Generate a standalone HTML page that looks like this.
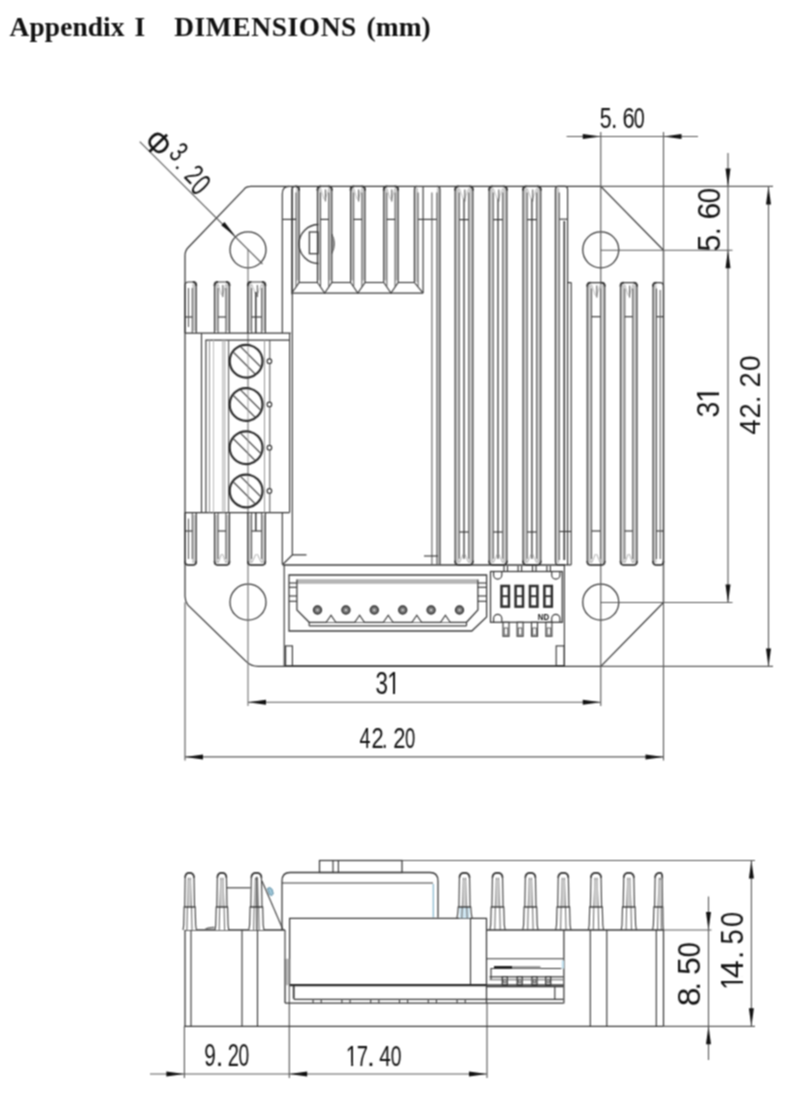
<!DOCTYPE html>
<html><head><meta charset="utf-8"><title>Appendix I DIMENSIONS (mm)</title>
<style>
html,body{margin:0;padding:0;background:#fff;}
body{width:800px;height:1101px;overflow:hidden;position:relative;font-family:"Liberation Sans",sans-serif;}
h1 span{position:absolute;top:0}
h1{position:absolute;left:0;top:11.5px;width:800px;height:34px;margin:0;font-family:"Liberation Serif",serif;font-weight:bold;font-size:27.4px;line-height:30px;color:#111;white-space:pre;letter-spacing:0.1px}
svg{position:absolute;left:0;top:0;}
h1{filter:url(#soft)}
</style></head><body>
<h1><span style="left:9.6px">Appendix</span><span style="left:134.6px">I</span><span style="left:174.2px;letter-spacing:0.62px">DIMENSIONS</span><span style="left:366.5px">(mm)</span></h1>
<svg width="800" height="1101" viewBox="0 0 800 1101" shape-rendering="geometricPrecision">
<defs><filter id="soft" x="-5%" y="-5%" width="110%" height="110%" color-interpolation-filters="sRGB"><feConvolveMatrix order="3" kernelMatrix="1 2 1 2 4 2 1 2 1" divisor="16" edgeMode="none" preserveAlpha="false"/></filter></defs>
<g filter="url(#soft)">
<path d="M250.0,186.4 L600.75,186.4 L663.5,250.25 L663.5,602.5 L600.75,666.4 L258.0,666.4 Q251.0,666.4 246.0,661.4 L188.0,605.2 Q185.0,601.2 185.0,596.2 L185.0,255.8 Q185.0,250.8 188.0,247.8 L244.0,189.4 Q246.0,186.4 251.0,186.4 Z" stroke="#383838" stroke-width="1.26" fill="none" />
<line x1="292.50" y1="666.10" x2="565.00" y2="666.10" stroke="#333" stroke-width="1.95" />
<circle cx="248.00" cy="249.85" r="18.00" stroke="#383838" stroke-width="1.26" fill="none"/>
<circle cx="600.75" cy="249.85" r="18.00" stroke="#383838" stroke-width="1.26" fill="none"/>
<circle cx="248.00" cy="602.20" r="18.00" stroke="#383838" stroke-width="1.26" fill="none"/>
<circle cx="600.75" cy="602.20" r="18.00" stroke="#383838" stroke-width="1.26" fill="none"/>
<line x1="600.75" y1="132.00" x2="600.75" y2="706.00" stroke="#5a5a5a" stroke-width="1.15" />
<line x1="663.50" y1="132.00" x2="663.50" y2="760.50" stroke="#5a5a5a" stroke-width="1.15" />
<line x1="248.00" y1="249.85" x2="248.00" y2="706.00" stroke="#777" stroke-width="1.15" />
<line x1="185.00" y1="602.20" x2="185.00" y2="760.50" stroke="#5a5a5a" stroke-width="1.15" />
<line x1="600.75" y1="186.40" x2="773.00" y2="186.40" stroke="#5a5a5a" stroke-width="1.15" />
<line x1="600.75" y1="250.25" x2="732.50" y2="250.25" stroke="#5a5a5a" stroke-width="1.15" />
<line x1="600.75" y1="602.50" x2="732.50" y2="602.50" stroke="#5a5a5a" stroke-width="1.15" />
<line x1="600.75" y1="666.40" x2="773.00" y2="666.40" stroke="#5a5a5a" stroke-width="1.15" />
<line x1="566.60" y1="136.50" x2="698.00" y2="136.50" stroke="#5a5a5a" stroke-width="1.15" />
<polygon points="600.75,136.50 582.75,139.00 582.75,134.00" fill="#111"/>
<polygon points="663.50,136.50 681.50,134.00 681.50,139.00" fill="#111"/>
<g transform="translate(600.50,127.60) rotate(0)">
<text font-family="Liberation Sans, sans-serif" font-size="30.09" fill="#111" xml:space="preserve"><tspan x="-0.85" textLength="11.85" lengthAdjust="spacingAndGlyphs">5</tspan><tspan x="10.59" textLength="6.42" lengthAdjust="spacingAndGlyphs">.</tspan><tspan x="15.90"> </tspan><tspan x="22.09" textLength="12.17" lengthAdjust="spacingAndGlyphs">6</tspan><tspan x="33.13" textLength="10.94" lengthAdjust="spacingAndGlyphs">0</tspan></text>
</g>
<line x1="728.00" y1="153.00" x2="728.00" y2="602.20" stroke="#5a5a5a" stroke-width="1.15" />
<polygon points="728.00,186.40 725.50,168.40 730.50,168.40" fill="#111"/>
<polygon points="728.00,250.25 730.50,268.25 725.50,268.25" fill="#111"/>
<polygon points="728.00,602.50 725.50,584.50 730.50,584.50" fill="#111"/>
<g transform="translate(719.60,250.30) rotate(-90)">
<text font-family="Liberation Sans, sans-serif" font-size="31.52" fill="#111" xml:space="preserve"><tspan x="-1.22" textLength="16.89" lengthAdjust="spacingAndGlyphs">5</tspan><tspan x="15.41" textLength="7.59" lengthAdjust="spacingAndGlyphs">.</tspan><tspan x="21.50"> </tspan><tspan x="30.76" textLength="16.87" lengthAdjust="spacingAndGlyphs">6</tspan><tspan x="47.03" textLength="15.24" lengthAdjust="spacingAndGlyphs">0</tspan></text>
</g>
<g transform="translate(719.00,416.50) rotate(-90)">
<text font-family="Liberation Sans, sans-serif" font-size="30.80" fill="#111" xml:space="preserve"><tspan x="-1.08" textLength="15.84" lengthAdjust="spacingAndGlyphs">3</tspan><tspan x="13.55" textLength="17.11" lengthAdjust="spacingAndGlyphs">1</tspan></text>
<rect x="15.08" y="-3.10" width="6.20" height="3.70" fill="#fff"/>
<rect x="24.00" y="-3.10" width="5.85" height="3.70" fill="#fff"/>
</g>
<line x1="768.50" y1="186.40" x2="768.50" y2="666.40" stroke="#5a5a5a" stroke-width="1.15" />
<polygon points="768.50,186.40 771.00,204.40 766.00,204.40" fill="#111"/>
<polygon points="768.50,666.40 766.00,648.40 771.00,648.40" fill="#111"/>
<g transform="translate(760.00,434.00) rotate(-90)">
<text font-family="Liberation Sans, sans-serif" font-size="30.09" fill="#111" xml:space="preserve"><tspan x="-0.64" textLength="15.45" lengthAdjust="spacingAndGlyphs">4</tspan><tspan x="15.62" textLength="15.26" lengthAdjust="spacingAndGlyphs">2</tspan><tspan x="31.10" textLength="7.29" lengthAdjust="spacingAndGlyphs">.</tspan><tspan x="37.00"> </tspan><tspan x="46.62" textLength="15.26" lengthAdjust="spacingAndGlyphs">2</tspan><tspan x="62.90" textLength="15.71" lengthAdjust="spacingAndGlyphs">0</tspan></text>
</g>
<line x1="248.00" y1="702.20" x2="600.75" y2="702.20" stroke="#5a5a5a" stroke-width="1.15" />
<polygon points="248.00,702.20 266.00,699.70 266.00,704.70" fill="#111"/>
<polygon points="600.75,702.20 582.75,704.70 582.75,699.70" fill="#111"/>
<g transform="translate(376.25,693.75) rotate(0)">
<text font-family="Liberation Sans, sans-serif" font-size="30.44" fill="#111" xml:space="preserve"><tspan x="-0.86" textLength="12.49" lengthAdjust="spacingAndGlyphs">3</tspan><tspan x="10.94" textLength="12.77" lengthAdjust="spacingAndGlyphs">1</tspan></text>
<rect x="12.09" y="-3.07" width="4.63" height="3.67" fill="#fff"/>
<rect x="18.75" y="-3.07" width="4.37" height="3.67" fill="#fff"/>
</g>
<line x1="185.00" y1="756.90" x2="663.50" y2="756.90" stroke="#5a5a5a" stroke-width="1.15" />
<polygon points="185.00,756.90 203.00,754.40 203.00,759.40" fill="#111"/>
<polygon points="663.50,756.90 645.50,759.40 645.50,754.40" fill="#111"/>
<g transform="translate(360.00,748.10) rotate(0)">
<text font-family="Liberation Sans, sans-serif" font-size="29.51" fill="#111" xml:space="preserve"><tspan x="-0.46" textLength="11.04" lengthAdjust="spacingAndGlyphs">4</tspan><tspan x="11.40" textLength="12.21" lengthAdjust="spacingAndGlyphs">2</tspan><tspan x="21.98" textLength="5.40" lengthAdjust="spacingAndGlyphs">.</tspan><tspan x="26.60"> </tspan><tspan x="33.30" textLength="12.21" lengthAdjust="spacingAndGlyphs">2</tspan><tspan x="44.88" textLength="10.24" lengthAdjust="spacingAndGlyphs">0</tspan></text>
</g>
<line x1="139.70" y1="141.70" x2="262.50" y2="264.00" stroke="#5a5a5a" stroke-width="1.15" />
<polygon points="235.60,236.40 221.25,225.30 224.50,222.05" fill="#111"/>
<text transform="translate(158.25,143.10) rotate(46)" x="-11.96" y="12.11" textLength="23.91" lengthAdjust="spacingAndGlyphs" font-family="Liberation Sans, sans-serif" font-size="35.23" fill="#111">&#934;</text>
<text transform="translate(178.70,151.80) rotate(46)" x="-5.51" y="10.02" textLength="11.14" lengthAdjust="spacingAndGlyphs" font-family="Liberation Sans, sans-serif" font-size="29.10" fill="#111">3</text>
<text transform="translate(177.30,167.80) rotate(46)" x="-3.36" y="1.25" textLength="6.71" lengthAdjust="spacingAndGlyphs" font-family="Liberation Sans, sans-serif" font-size="23.38" fill="#111">.</text>
<text transform="translate(194.20,174.10) rotate(46)" x="-5.80" y="10.10" textLength="11.60" lengthAdjust="spacingAndGlyphs" font-family="Liberation Sans, sans-serif" font-size="28.93" fill="#111">2</text>
<text transform="translate(200.90,185.00) rotate(46)" x="-5.82" y="10.94" textLength="11.63" lengthAdjust="spacingAndGlyphs" font-family="Liberation Sans, sans-serif" font-size="31.78" fill="#111">0</text>
<path d="M282.3,564.5 L282.3,512.6 M282.3,333.1 L282.3,194 Q282.3,186.4 289,186.4" stroke="#383838" stroke-width="1.15" fill="none" />
<path d="M292.3,186.4 L292.3,554.9 L282.6,564.5 M292.3,554.9 L306.5,554.9" stroke="#383838" stroke-width="1.15" fill="none" />
<line x1="282.60" y1="565.00" x2="565.00" y2="565.00" stroke="#383838" stroke-width="1.26" />
<line x1="284.20" y1="565.00" x2="284.20" y2="666.40" stroke="#383838" stroke-width="1.15" />
<rect x="285.60" y="645.90" width="6.80" height="19.90" rx="0" stroke="#383838" stroke-width="1.15" fill="none"/>
<rect x="317.45" y="188.40" width="3.10" height="92.10" fill="#c9c9c9"/>
<rect x="328.75" y="188.40" width="3.10" height="92.10" fill="#c9c9c9"/>
<path d="M317.45,282.50 L317.45,189.90 Q317.45,186.40 320.95,186.40 L328.35,186.40 Q331.85,186.40 331.85,189.90 L331.85,282.50 L324.65,293.00 L317.45,282.50" stroke="#383838" stroke-width="1.15" fill="none" />
<line x1="320.55" y1="192.40" x2="320.55" y2="286.50" stroke="#555" stroke-width="1.03" />
<line x1="328.75" y1="192.40" x2="328.75" y2="286.50" stroke="#555" stroke-width="1.03" />
<path d="M320.55,188.40 L324.05,199.40 M328.75,188.40 L325.25,199.40" stroke="#aaa" stroke-width="0.80" fill="none" />
<line x1="325.45" y1="189.40" x2="325.45" y2="201.40" stroke="#666" stroke-width="1.15" />
<path d="M317.45,190.40 L317.45,189.90 Q317.45,186.40 320.95,186.40" stroke="#333" stroke-width="1.85" fill="none" />
<path d="M331.85,190.40 L331.85,189.90 Q331.85,186.40 328.35,186.40" stroke="#333" stroke-width="1.85" fill="none" />
<line x1="320.55" y1="219.40" x2="328.75" y2="219.40" stroke="#333" stroke-width="1.15" />
<rect x="350.60" y="188.40" width="3.10" height="92.10" fill="#c9c9c9"/>
<rect x="361.90" y="188.40" width="3.10" height="92.10" fill="#c9c9c9"/>
<path d="M350.60,282.50 L350.60,189.90 Q350.60,186.40 354.10,186.40 L361.50,186.40 Q365.00,186.40 365.00,189.90 L365.00,282.50 L357.80,293.00 L350.60,282.50" stroke="#383838" stroke-width="1.15" fill="none" />
<line x1="353.70" y1="192.40" x2="353.70" y2="286.50" stroke="#555" stroke-width="1.03" />
<line x1="361.90" y1="192.40" x2="361.90" y2="286.50" stroke="#555" stroke-width="1.03" />
<path d="M353.70,188.40 L357.20,199.40 M361.90,188.40 L358.40,199.40" stroke="#aaa" stroke-width="0.80" fill="none" />
<line x1="358.60" y1="189.40" x2="358.60" y2="201.40" stroke="#666" stroke-width="1.15" />
<path d="M350.60,190.40 L350.60,189.90 Q350.60,186.40 354.10,186.40" stroke="#333" stroke-width="1.85" fill="none" />
<path d="M365.00,190.40 L365.00,189.90 Q365.00,186.40 361.50,186.40" stroke="#333" stroke-width="1.85" fill="none" />
<line x1="353.70" y1="219.40" x2="361.90" y2="219.40" stroke="#333" stroke-width="1.15" />
<rect x="383.75" y="188.40" width="3.10" height="92.10" fill="#c9c9c9"/>
<rect x="395.05" y="188.40" width="3.10" height="92.10" fill="#c9c9c9"/>
<path d="M383.75,282.50 L383.75,189.90 Q383.75,186.40 387.25,186.40 L394.65,186.40 Q398.15,186.40 398.15,189.90 L398.15,282.50 L390.95,293.00 L383.75,282.50" stroke="#383838" stroke-width="1.15" fill="none" />
<line x1="386.85" y1="192.40" x2="386.85" y2="286.50" stroke="#555" stroke-width="1.03" />
<line x1="395.05" y1="192.40" x2="395.05" y2="286.50" stroke="#555" stroke-width="1.03" />
<path d="M386.85,188.40 L390.35,199.40 M395.05,188.40 L391.55,199.40" stroke="#aaa" stroke-width="0.80" fill="none" />
<line x1="391.75" y1="189.40" x2="391.75" y2="201.40" stroke="#666" stroke-width="1.15" />
<path d="M383.75,190.40 L383.75,189.90 Q383.75,186.40 387.25,186.40" stroke="#333" stroke-width="1.85" fill="none" />
<path d="M398.15,190.40 L398.15,189.90 Q398.15,186.40 394.65,186.40" stroke="#333" stroke-width="1.85" fill="none" />
<line x1="386.85" y1="219.40" x2="395.05" y2="219.40" stroke="#333" stroke-width="1.15" />
<rect x="296.00" y="188.40" width="3.10" height="92.10" fill="#c9c9c9"/>
<path d="M291.90,282.50 L291.90,189.90 Q291.90,186.40 295.40,186.40 L295.60,186.40 Q299.10,186.40 299.10,189.90 L299.10,282.50 L291.90,293.00 L291.90,282.50" stroke="#383838" stroke-width="1.15" fill="none" />
<line x1="296.00" y1="192.40" x2="296.00" y2="286.50" stroke="#555" stroke-width="1.03" />
<path d="M0,0" stroke="#333" stroke-width="1.85" fill="none" />
<path d="M299.10,190.40 L299.10,189.90 Q299.10,186.40 295.60,186.40" stroke="#333" stroke-width="1.85" fill="none" />
<line x1="291.90" y1="219.40" x2="296.00" y2="219.40" stroke="#333" stroke-width="1.15" />
<line x1="282.30" y1="219.40" x2="296.00" y2="219.40" stroke="#383838" stroke-width="1.15" />
<rect x="414.4" y="188" width="3.6" height="94" fill="#c9c9c9"/>
<path d="M414.4,282.5 L414.4,189.4 Q414.4,186.4 417,186.4" stroke="#383838" stroke-width="1.15" fill="none" />
<line x1="418.10" y1="192.40" x2="418.10" y2="286.50" stroke="#555" stroke-width="1.03" />
<line x1="423.10" y1="186.40" x2="423.10" y2="293.10" stroke="#383838" stroke-width="1.15" />
<path d="M414.4,282.5 L423.1,293.1" stroke="#383838" stroke-width="1.15" fill="none" />
<line x1="418.10" y1="219.40" x2="436.90" y2="219.40" stroke="#383838" stroke-width="1.15" />
<line x1="299.10" y1="282.50" x2="317.45" y2="282.50" stroke="#383838" stroke-width="1.15" />
<line x1="331.85" y1="282.50" x2="350.60" y2="282.50" stroke="#383838" stroke-width="1.15" />
<line x1="365.00" y1="282.50" x2="383.75" y2="282.50" stroke="#383838" stroke-width="1.15" />
<line x1="398.15" y1="282.50" x2="414.40" y2="282.50" stroke="#383838" stroke-width="1.15" />
<line x1="292.30" y1="293.10" x2="423.10" y2="293.10" stroke="#383838" stroke-width="1.26" />
<rect x="436.9" y="188" width="3.1" height="376" fill="#c9c9c9"/>
<line x1="431.90" y1="192.40" x2="431.90" y2="564.50" stroke="#555" stroke-width="1.03" />
<line x1="436.90" y1="192.40" x2="436.90" y2="564.50" stroke="#555" stroke-width="1.03" />
<path d="M440,564.5 L440,189.4 Q440,186.4 437,186.4" stroke="#383838" stroke-width="1.15" fill="none" />
<line x1="424.00" y1="556.00" x2="438.00" y2="556.00" stroke="#383838" stroke-width="1.15" />
<path d="M318.5,224.5 A19.5,19.5 0 0 0 318.5,263.5" stroke="#383838" stroke-width="1.26" fill="none" />
<rect x="309.40" y="232.00" width="8.60" height="21.70" rx="0" stroke="#383838" stroke-width="1.26" fill="none"/>
<path d="M331.9,234 Q337,243.7 331.9,253.5 Z" stroke="#555" stroke-width="0.92" fill="#999" />
<rect x="455.10" y="188.40" width="4.20" height="374.40" fill="#c9c9c9"/>
<rect x="468.70" y="188.40" width="4.20" height="374.40" fill="#c9c9c9"/>
<path d="M455.10,561.30 L455.10,189.90 Q455.10,186.40 458.60,186.40 L469.40,186.40 Q472.90,186.40 472.90,189.90 L472.90,561.30 Q472.90,564.80 469.40,564.80 L458.60,564.80 Q455.10,564.80 455.10,561.30" stroke="#383838" stroke-width="1.15" fill="none" />
<line x1="459.30" y1="192.40" x2="459.30" y2="558.80" stroke="#555" stroke-width="1.03" />
<line x1="468.70" y1="192.40" x2="468.70" y2="558.80" stroke="#555" stroke-width="1.03" />
<line x1="464.00" y1="198.40" x2="464.00" y2="558.80" stroke="#333" stroke-width="1.26" />
<path d="M459.30,188.40 L463.40,199.40 M468.70,188.40 L464.60,199.40" stroke="#aaa" stroke-width="0.80" fill="none" />
<line x1="464.80" y1="189.40" x2="464.80" y2="201.40" stroke="#666" stroke-width="1.15" />
<path d="M455.10,190.40 L455.10,189.90 Q455.10,186.40 458.60,186.40" stroke="#333" stroke-width="1.85" fill="none" />
<path d="M472.90,190.40 L472.90,189.90 Q472.90,186.40 469.40,186.40" stroke="#333" stroke-width="1.85" fill="none" />
<path d="M459.30,562.80 L463.40,553.80 M468.70,562.80 L464.60,553.80" stroke="#999" stroke-width="0.80" fill="none" />
<path d="M455.10,560.80 L455.10,561.30 Q455.10,564.80 458.60,564.80 L469.40,564.80 Q472.90,564.80 472.90,561.30 L472.90,560.80" stroke="#3a3a3a" stroke-width="1.65" fill="none" />
<line x1="459.30" y1="219.60" x2="468.70" y2="219.60" stroke="#333" stroke-width="1.15" />
<line x1="459.30" y1="532.00" x2="468.70" y2="532.00" stroke="#333" stroke-width="1.15" />
<rect x="489.10" y="188.40" width="4.20" height="374.40" fill="#c9c9c9"/>
<rect x="502.70" y="188.40" width="4.20" height="374.40" fill="#c9c9c9"/>
<path d="M489.10,561.30 L489.10,189.90 Q489.10,186.40 492.60,186.40 L503.40,186.40 Q506.90,186.40 506.90,189.90 L506.90,561.30 Q506.90,564.80 503.40,564.80 L492.60,564.80 Q489.10,564.80 489.10,561.30" stroke="#383838" stroke-width="1.15" fill="none" />
<line x1="493.30" y1="192.40" x2="493.30" y2="558.80" stroke="#555" stroke-width="1.03" />
<line x1="502.70" y1="192.40" x2="502.70" y2="558.80" stroke="#555" stroke-width="1.03" />
<line x1="498.00" y1="198.40" x2="498.00" y2="558.80" stroke="#333" stroke-width="1.26" />
<path d="M493.30,188.40 L497.40,199.40 M502.70,188.40 L498.60,199.40" stroke="#aaa" stroke-width="0.80" fill="none" />
<line x1="498.80" y1="189.40" x2="498.80" y2="201.40" stroke="#666" stroke-width="1.15" />
<path d="M489.10,190.40 L489.10,189.90 Q489.10,186.40 492.60,186.40" stroke="#333" stroke-width="1.85" fill="none" />
<path d="M506.90,190.40 L506.90,189.90 Q506.90,186.40 503.40,186.40" stroke="#333" stroke-width="1.85" fill="none" />
<path d="M493.30,562.80 L497.40,553.80 M502.70,562.80 L498.60,553.80" stroke="#999" stroke-width="0.80" fill="none" />
<path d="M489.10,560.80 L489.10,561.30 Q489.10,564.80 492.60,564.80 L503.40,564.80 Q506.90,564.80 506.90,561.30 L506.90,560.80" stroke="#3a3a3a" stroke-width="1.65" fill="none" />
<line x1="493.30" y1="219.60" x2="502.70" y2="219.60" stroke="#333" stroke-width="1.15" />
<line x1="493.30" y1="532.00" x2="502.70" y2="532.00" stroke="#333" stroke-width="1.15" />
<rect x="523.00" y="188.40" width="4.20" height="374.40" fill="#c9c9c9"/>
<rect x="536.60" y="188.40" width="4.20" height="374.40" fill="#c9c9c9"/>
<path d="M523.00,561.30 L523.00,189.90 Q523.00,186.40 526.50,186.40 L537.30,186.40 Q540.80,186.40 540.80,189.90 L540.80,561.30 Q540.80,564.80 537.30,564.80 L526.50,564.80 Q523.00,564.80 523.00,561.30" stroke="#383838" stroke-width="1.15" fill="none" />
<line x1="527.20" y1="192.40" x2="527.20" y2="558.80" stroke="#555" stroke-width="1.03" />
<line x1="536.60" y1="192.40" x2="536.60" y2="558.80" stroke="#555" stroke-width="1.03" />
<line x1="531.90" y1="198.40" x2="531.90" y2="558.80" stroke="#333" stroke-width="1.26" />
<path d="M527.20,188.40 L531.30,199.40 M536.60,188.40 L532.50,199.40" stroke="#aaa" stroke-width="0.80" fill="none" />
<line x1="532.70" y1="189.40" x2="532.70" y2="201.40" stroke="#666" stroke-width="1.15" />
<path d="M523.00,190.40 L523.00,189.90 Q523.00,186.40 526.50,186.40" stroke="#333" stroke-width="1.85" fill="none" />
<path d="M540.80,190.40 L540.80,189.90 Q540.80,186.40 537.30,186.40" stroke="#333" stroke-width="1.85" fill="none" />
<path d="M527.20,562.80 L531.30,553.80 M536.60,562.80 L532.50,553.80" stroke="#999" stroke-width="0.80" fill="none" />
<path d="M523.00,560.80 L523.00,561.30 Q523.00,564.80 526.50,564.80 L537.30,564.80 Q540.80,564.80 540.80,561.30 L540.80,560.80" stroke="#3a3a3a" stroke-width="1.65" fill="none" />
<line x1="527.20" y1="219.60" x2="536.60" y2="219.60" stroke="#333" stroke-width="1.15" />
<line x1="527.20" y1="532.00" x2="536.60" y2="532.00" stroke="#333" stroke-width="1.15" />
<rect x="555.4" y="188" width="3.8" height="375" fill="#c9c9c9"/>
<path d="M555.4,561.5 L555.4,189.4 Q555.4,186.4 558,186.4 L565,186.4 Q567.6,186.4 567.6,189.4 L567.6,564.8 M555.4,561.5 Q555.4,564.8 558.5,564.8 L571.2,564.8" stroke="#383838" stroke-width="1.15" fill="none" />
<line x1="559.30" y1="192.40" x2="559.30" y2="560.00" stroke="#555" stroke-width="1.03" />
<line x1="564.30" y1="221.00" x2="564.30" y2="560.00" stroke="#444" stroke-width="1.75" />
<line x1="559.30" y1="219.20" x2="567.60" y2="219.20" stroke="#383838" stroke-width="1.15" />
<line x1="559.30" y1="531.50" x2="571.00" y2="531.50" stroke="#383838" stroke-width="1.15" />
<line x1="571.20" y1="282.60" x2="571.20" y2="564.80" stroke="#383838" stroke-width="1.15" />
<line x1="567.60" y1="282.60" x2="571.20" y2="282.60" stroke="#383838" stroke-width="1.15" />
<rect x="587.25" y="284.60" width="4.30" height="278.40" fill="#c9c9c9"/>
<rect x="600.45" y="284.60" width="4.30" height="278.40" fill="#c9c9c9"/>
<path d="M587.25,561.50 L587.25,286.10 Q587.25,282.60 590.75,282.60 L601.25,282.60 Q604.75,282.60 604.75,286.10 L604.75,561.50 Q604.75,565.00 601.25,565.00 L590.75,565.00 Q587.25,565.00 587.25,561.50" stroke="#383838" stroke-width="1.15" fill="none" />
<line x1="591.55" y1="288.60" x2="591.55" y2="559.00" stroke="#555" stroke-width="1.03" />
<line x1="600.45" y1="288.60" x2="600.45" y2="559.00" stroke="#555" stroke-width="1.03" />
<path d="M591.55,284.60 L595.40,295.60 M600.45,284.60 L596.60,295.60" stroke="#aaa" stroke-width="0.80" fill="none" />
<line x1="596.80" y1="285.60" x2="596.80" y2="297.60" stroke="#666" stroke-width="1.15" />
<path d="M587.25,286.60 L587.25,286.10 Q587.25,282.60 590.75,282.60" stroke="#333" stroke-width="1.85" fill="none" />
<path d="M604.75,286.60 L604.75,286.10 Q604.75,282.60 601.25,282.60" stroke="#333" stroke-width="1.85" fill="none" />
<path d="M591.55,563.00 L595.40,554.00 M600.45,563.00 L596.60,554.00" stroke="#999" stroke-width="0.80" fill="none" />
<path d="M587.25,561.00 L587.25,561.50 Q587.25,565.00 590.75,565.00 L601.25,565.00 Q604.75,565.00 604.75,561.50 L604.75,561.00" stroke="#3a3a3a" stroke-width="1.65" fill="none" />
<line x1="591.55" y1="316.70" x2="600.45" y2="316.70" stroke="#333" stroke-width="1.15" />
<line x1="591.55" y1="531.00" x2="600.45" y2="531.00" stroke="#333" stroke-width="1.15" />
<rect x="620.50" y="284.60" width="4.30" height="278.40" fill="#c9c9c9"/>
<rect x="632.70" y="284.60" width="4.30" height="278.40" fill="#c9c9c9"/>
<path d="M620.50,561.50 L620.50,286.10 Q620.50,282.60 624.00,282.60 L633.50,282.60 Q637.00,282.60 637.00,286.10 L637.00,561.50 Q637.00,565.00 633.50,565.00 L624.00,565.00 Q620.50,565.00 620.50,561.50" stroke="#383838" stroke-width="1.15" fill="none" />
<line x1="624.80" y1="288.60" x2="624.80" y2="559.00" stroke="#555" stroke-width="1.03" />
<line x1="632.70" y1="288.60" x2="632.70" y2="559.00" stroke="#555" stroke-width="1.03" />
<path d="M624.80,284.60 L628.15,295.60 M632.70,284.60 L629.35,295.60" stroke="#aaa" stroke-width="0.80" fill="none" />
<line x1="629.55" y1="285.60" x2="629.55" y2="297.60" stroke="#666" stroke-width="1.15" />
<path d="M620.50,286.60 L620.50,286.10 Q620.50,282.60 624.00,282.60" stroke="#333" stroke-width="1.85" fill="none" />
<path d="M637.00,286.60 L637.00,286.10 Q637.00,282.60 633.50,282.60" stroke="#333" stroke-width="1.85" fill="none" />
<path d="M624.80,563.00 L628.15,554.00 M632.70,563.00 L629.35,554.00" stroke="#999" stroke-width="0.80" fill="none" />
<path d="M620.50,561.00 L620.50,561.50 Q620.50,565.00 624.00,565.00 L633.50,565.00 Q637.00,565.00 637.00,561.50 L637.00,561.00" stroke="#3a3a3a" stroke-width="1.65" fill="none" />
<line x1="624.80" y1="316.70" x2="632.70" y2="316.70" stroke="#333" stroke-width="1.15" />
<line x1="624.80" y1="531.00" x2="632.70" y2="531.00" stroke="#333" stroke-width="1.15" />
<rect x="653.00" y="284.60" width="3.50" height="278.40" fill="#c9c9c9"/>
<path d="M653.00,561.50 L653.00,286.10 Q653.00,282.60 656.50,282.60 L660.00,282.60 Q663.50,282.60 663.50,286.10 L663.50,561.50 Q663.50,565.00 660.00,565.00 L656.50,565.00 Q653.00,565.00 653.00,561.50" stroke="#383838" stroke-width="1.15" fill="none" />
<line x1="656.50" y1="288.60" x2="656.50" y2="559.00" stroke="#555" stroke-width="1.03" />
<path d="M653.00,286.60 L653.00,286.10 Q653.00,282.60 656.50,282.60" stroke="#333" stroke-width="1.85" fill="none" />
<path d="M0,0" stroke="#333" stroke-width="1.85" fill="none" />
<path d="M653.00,561.00 L653.00,561.50 Q653.00,565.00 656.50,565.00 L660.00,565.00 Q663.50,565.00 663.50,561.50 L663.50,561.00" stroke="#3a3a3a" stroke-width="1.65" fill="none" />
<line x1="656.50" y1="316.70" x2="663.50" y2="316.70" stroke="#333" stroke-width="1.15" />
<line x1="656.50" y1="531.00" x2="663.50" y2="531.00" stroke="#333" stroke-width="1.15" />
<line x1="660.20" y1="290.00" x2="660.20" y2="559.00" stroke="#555" stroke-width="1.03" />
<rect x="192.25" y="284.00" width="4.00" height="47.00" fill="#c9c9c9"/>
<path d="M185.00,333.00 L185.00,285.50 Q185.00,282.00 188.50,282.00 L192.75,282.00 Q196.25,282.00 196.25,285.50 L196.25,333.00" stroke="#383838" stroke-width="1.15" fill="none" />
<line x1="192.25" y1="288.00" x2="192.25" y2="333.00" stroke="#555" stroke-width="1.03" />
<path d="M0,0" stroke="#333" stroke-width="1.85" fill="none" />
<path d="M196.25,286.00 L196.25,285.50 Q196.25,282.00 192.75,282.00" stroke="#333" stroke-width="1.85" fill="none" />
<line x1="185.00" y1="317.00" x2="192.25" y2="317.00" stroke="#333" stroke-width="1.15" />
<line x1="188.50" y1="288.00" x2="188.50" y2="327.00" stroke="#555" stroke-width="1.03" />
<rect x="214.50" y="284.00" width="3.60" height="47.00" fill="#c9c9c9"/>
<rect x="225.90" y="284.00" width="3.60" height="47.00" fill="#c9c9c9"/>
<path d="M214.50,333.00 L214.50,285.50 Q214.50,282.00 218.00,282.00 L226.00,282.00 Q229.50,282.00 229.50,285.50 L229.50,333.00" stroke="#383838" stroke-width="1.15" fill="none" />
<line x1="218.10" y1="288.00" x2="218.10" y2="333.00" stroke="#555" stroke-width="1.03" />
<line x1="225.90" y1="288.00" x2="225.90" y2="333.00" stroke="#555" stroke-width="1.03" />
<path d="M218.10,284.00 L221.40,295.00 M225.90,284.00 L222.60,295.00" stroke="#aaa" stroke-width="0.80" fill="none" />
<line x1="222.80" y1="285.00" x2="222.80" y2="297.00" stroke="#666" stroke-width="1.15" />
<path d="M214.50,286.00 L214.50,285.50 Q214.50,282.00 218.00,282.00" stroke="#333" stroke-width="1.85" fill="none" />
<path d="M229.50,286.00 L229.50,285.50 Q229.50,282.00 226.00,282.00" stroke="#333" stroke-width="1.85" fill="none" />
<line x1="218.10" y1="317.00" x2="225.90" y2="317.00" stroke="#333" stroke-width="1.15" />
<rect x="247.80" y="284.00" width="3.80" height="47.00" fill="#c9c9c9"/>
<rect x="261.60" y="284.00" width="3.80" height="47.00" fill="#c9c9c9"/>
<path d="M247.80,333.00 L247.80,285.50 Q247.80,282.00 251.30,282.00 L261.90,282.00 Q265.40,282.00 265.40,285.50 L265.40,333.00" stroke="#383838" stroke-width="1.15" fill="none" />
<line x1="251.60" y1="288.00" x2="251.60" y2="333.00" stroke="#555" stroke-width="1.03" />
<line x1="261.60" y1="288.00" x2="261.60" y2="333.00" stroke="#555" stroke-width="1.03" />
<path d="M251.60,284.00 L256.00,295.00 M261.60,284.00 L257.20,295.00" stroke="#aaa" stroke-width="0.80" fill="none" />
<line x1="257.40" y1="285.00" x2="257.40" y2="297.00" stroke="#666" stroke-width="1.15" />
<path d="M247.80,286.00 L247.80,285.50 Q247.80,282.00 251.30,282.00" stroke="#333" stroke-width="1.85" fill="none" />
<path d="M265.40,286.00 L265.40,285.50 Q265.40,282.00 261.90,282.00" stroke="#333" stroke-width="1.85" fill="none" />
<line x1="251.60" y1="317.00" x2="261.60" y2="317.00" stroke="#333" stroke-width="1.15" />
<line x1="255.80" y1="292.00" x2="255.80" y2="333.00" stroke="#333" stroke-width="1.49" />
<rect x="192.25" y="514.60" width="4.00" height="48.40" fill="#c9c9c9"/>
<path d="M185.00,561.50 L185.00,512.60 M196.25,512.60 L196.25,561.50 Q196.25,565.00 192.75,565.00 L188.50,565.00 Q185.00,565.00 185.00,561.50" stroke="#383838" stroke-width="1.15" fill="none" />
<line x1="192.25" y1="512.60" x2="192.25" y2="559.00" stroke="#555" stroke-width="1.03" />
<path d="M185.00,561.00 L185.00,561.50 Q185.00,565.00 188.50,565.00 L192.75,565.00 Q196.25,565.00 196.25,561.50 L196.25,561.00" stroke="#3a3a3a" stroke-width="1.65" fill="none" />
<line x1="185.00" y1="531.00" x2="192.25" y2="531.00" stroke="#333" stroke-width="1.15" />
<line x1="188.50" y1="518.60" x2="188.50" y2="559.00" stroke="#555" stroke-width="1.03" />
<rect x="214.50" y="514.60" width="3.60" height="48.40" fill="#c9c9c9"/>
<rect x="225.90" y="514.60" width="3.60" height="48.40" fill="#c9c9c9"/>
<path d="M214.50,561.50 L214.50,512.60 M229.50,512.60 L229.50,561.50 Q229.50,565.00 226.00,565.00 L218.00,565.00 Q214.50,565.00 214.50,561.50" stroke="#383838" stroke-width="1.15" fill="none" />
<line x1="218.10" y1="512.60" x2="218.10" y2="559.00" stroke="#555" stroke-width="1.03" />
<line x1="225.90" y1="512.60" x2="225.90" y2="559.00" stroke="#555" stroke-width="1.03" />
<path d="M218.10,563.00 L221.40,554.00 M225.90,563.00 L222.60,554.00" stroke="#999" stroke-width="0.80" fill="none" />
<path d="M214.50,561.00 L214.50,561.50 Q214.50,565.00 218.00,565.00 L226.00,565.00 Q229.50,565.00 229.50,561.50 L229.50,561.00" stroke="#3a3a3a" stroke-width="1.65" fill="none" />
<line x1="218.10" y1="531.00" x2="225.90" y2="531.00" stroke="#333" stroke-width="1.15" />
<rect x="247.80" y="514.60" width="3.80" height="48.40" fill="#c9c9c9"/>
<rect x="261.60" y="514.60" width="3.80" height="48.40" fill="#c9c9c9"/>
<path d="M247.80,561.50 L247.80,512.60 M265.40,512.60 L265.40,561.50 Q265.40,565.00 261.90,565.00 L251.30,565.00 Q247.80,565.00 247.80,561.50" stroke="#383838" stroke-width="1.15" fill="none" />
<line x1="251.60" y1="512.60" x2="251.60" y2="559.00" stroke="#555" stroke-width="1.03" />
<line x1="261.60" y1="512.60" x2="261.60" y2="559.00" stroke="#555" stroke-width="1.03" />
<path d="M251.60,563.00 L256.00,554.00 M261.60,563.00 L257.20,554.00" stroke="#999" stroke-width="0.80" fill="none" />
<path d="M247.80,561.00 L247.80,561.50 Q247.80,565.00 251.30,565.00 L261.90,565.00 Q265.40,565.00 265.40,561.50 L265.40,561.00" stroke="#3a3a3a" stroke-width="1.65" fill="none" />
<line x1="251.60" y1="531.00" x2="261.60" y2="531.00" stroke="#333" stroke-width="1.15" />
<line x1="255.80" y1="512.60" x2="255.80" y2="531.00" stroke="#333" stroke-width="1.49" />
<line x1="185.00" y1="333.10" x2="290.70" y2="333.10" stroke="#383838" stroke-width="1.26" />
<line x1="185.00" y1="512.60" x2="289.50" y2="512.60" stroke="#383838" stroke-width="1.26" />
<line x1="201.50" y1="333.10" x2="201.50" y2="512.60" stroke="#383838" stroke-width="1.15" />
<path d="M205.9,512.6 L205.9,340.1 L289,340.1" stroke="#383838" stroke-width="1.15" fill="none" />
<line x1="289.60" y1="333.10" x2="289.60" y2="512.60" stroke="#383838" stroke-width="1.15" />
<line x1="209.50" y1="340.10" x2="209.50" y2="512.60" stroke="#999" stroke-width="1.03" />
<line x1="213.50" y1="340.10" x2="213.50" y2="512.60" stroke="#bbb" stroke-width="1.03" />
<line x1="222.80" y1="340.10" x2="222.80" y2="512.60" stroke="#aaa" stroke-width="1.03" />
<line x1="224.80" y1="340.10" x2="224.80" y2="512.60" stroke="#aaa" stroke-width="1.03" />
<line x1="228.60" y1="340.10" x2="228.60" y2="512.60" stroke="#555" stroke-width="1.03" />
<line x1="264.50" y1="340.10" x2="264.50" y2="512.60" stroke="#999" stroke-width="1.03" />
<line x1="269.80" y1="340.10" x2="269.80" y2="512.60" stroke="#555" stroke-width="1.03" />
<circle cx="246.10" cy="361.20" r="16.40" stroke="#2a2a2a" stroke-width="2.15" fill="#fff"/>
<clipPath id="sc0"><circle cx="246.1" cy="361.20" r="15.5"/></clipPath>
<g clip-path="url(#sc0)">
<line x1="224.20" y1="343.10" x2="264.20" y2="383.10" stroke="#444" stroke-width="1.15" />
<line x1="230.60" y1="336.70" x2="270.60" y2="376.70" stroke="#444" stroke-width="1.15" />
<line x1="248.00" y1="344.20" x2="248.00" y2="378.20" stroke="#999" stroke-width="0.92" />
</g>
<circle cx="269.40" cy="361.20" r="2.30" stroke="#333" stroke-width="1.15" fill="#fff"/>
<circle cx="246.10" cy="404.45" r="16.40" stroke="#2a2a2a" stroke-width="2.15" fill="#fff"/>
<clipPath id="sc1"><circle cx="246.1" cy="404.45" r="15.5"/></clipPath>
<g clip-path="url(#sc1)">
<line x1="224.20" y1="386.35" x2="264.20" y2="426.35" stroke="#444" stroke-width="1.15" />
<line x1="230.60" y1="379.95" x2="270.60" y2="419.95" stroke="#444" stroke-width="1.15" />
<line x1="248.00" y1="387.45" x2="248.00" y2="421.45" stroke="#999" stroke-width="0.92" />
</g>
<circle cx="269.40" cy="404.45" r="2.30" stroke="#333" stroke-width="1.15" fill="#fff"/>
<circle cx="246.10" cy="447.70" r="16.40" stroke="#2a2a2a" stroke-width="2.15" fill="#fff"/>
<clipPath id="sc2"><circle cx="246.1" cy="447.70" r="15.5"/></clipPath>
<g clip-path="url(#sc2)">
<line x1="224.20" y1="429.60" x2="264.20" y2="469.60" stroke="#444" stroke-width="1.15" />
<line x1="230.60" y1="423.20" x2="270.60" y2="463.20" stroke="#444" stroke-width="1.15" />
<line x1="248.00" y1="430.70" x2="248.00" y2="464.70" stroke="#999" stroke-width="0.92" />
</g>
<circle cx="269.40" cy="447.70" r="2.30" stroke="#333" stroke-width="1.15" fill="#fff"/>
<circle cx="246.10" cy="490.95" r="16.40" stroke="#2a2a2a" stroke-width="2.15" fill="#fff"/>
<clipPath id="sc3"><circle cx="246.1" cy="490.95" r="15.5"/></clipPath>
<g clip-path="url(#sc3)">
<line x1="224.20" y1="472.85" x2="264.20" y2="512.85" stroke="#444" stroke-width="1.15" />
<line x1="230.60" y1="466.45" x2="270.60" y2="506.45" stroke="#444" stroke-width="1.15" />
<line x1="248.00" y1="473.95" x2="248.00" y2="507.95" stroke="#999" stroke-width="0.92" />
</g>
<circle cx="269.40" cy="490.95" r="2.30" stroke="#333" stroke-width="1.15" fill="#fff"/>
<path d="M289,575 L486.6,575 L486.6,617 L471.8,631 L289,631 Z" stroke="#383838" stroke-width="1.26" fill="none" />
<rect x="296.9" y="579.2" width="180.5" height="4.6" fill="#b5b5b5"/>
<path d="M296.9,579.4 L296.9,610 L309.2,622.3 L466.5,622.3 L477.9,610 L477.9,579.4" stroke="#383838" stroke-width="1.26" fill="none" />
<line x1="309.20" y1="625.90" x2="466.50" y2="625.90" stroke="#383838" stroke-width="1.26" />
<line x1="309.20" y1="622.30" x2="309.20" y2="625.90" stroke="#383838" stroke-width="1.15" />
<line x1="466.50" y1="622.30" x2="466.50" y2="625.90" stroke="#383838" stroke-width="1.15" />
<line x1="289.00" y1="583.00" x2="296.90" y2="583.00" stroke="#383838" stroke-width="1.15" />
<line x1="477.90" y1="583.00" x2="486.60" y2="583.00" stroke="#383838" stroke-width="1.15" />
<line x1="289.00" y1="587.30" x2="296.90" y2="587.30" stroke="#383838" stroke-width="1.15" />
<line x1="477.90" y1="587.30" x2="486.60" y2="587.30" stroke="#383838" stroke-width="1.15" />
<line x1="289.00" y1="596.00" x2="296.90" y2="596.00" stroke="#383838" stroke-width="1.15" />
<line x1="477.90" y1="596.00" x2="486.60" y2="596.00" stroke="#383838" stroke-width="1.15" />
<line x1="289.00" y1="601.30" x2="296.90" y2="601.30" stroke="#383838" stroke-width="1.15" />
<line x1="477.90" y1="601.30" x2="486.60" y2="601.30" stroke="#383838" stroke-width="1.15" />
<circle cx="317.50" cy="610.00" r="4.00" stroke="#333" stroke-width="1.38" fill="#777"/>
<circle cx="317.50" cy="610.00" r="1.20" stroke="none" stroke-width="0.00" fill="#ccc"/>
<circle cx="345.90" cy="610.00" r="4.00" stroke="#333" stroke-width="1.38" fill="#777"/>
<circle cx="345.90" cy="610.00" r="1.20" stroke="none" stroke-width="0.00" fill="#ccc"/>
<circle cx="374.30" cy="610.00" r="4.00" stroke="#333" stroke-width="1.38" fill="#777"/>
<circle cx="374.30" cy="610.00" r="1.20" stroke="none" stroke-width="0.00" fill="#ccc"/>
<circle cx="402.70" cy="610.00" r="4.00" stroke="#333" stroke-width="1.38" fill="#777"/>
<circle cx="402.70" cy="610.00" r="1.20" stroke="none" stroke-width="0.00" fill="#ccc"/>
<circle cx="431.10" cy="610.00" r="4.00" stroke="#333" stroke-width="1.38" fill="#777"/>
<circle cx="431.10" cy="610.00" r="1.20" stroke="none" stroke-width="0.00" fill="#ccc"/>
<circle cx="459.50" cy="610.00" r="4.00" stroke="#333" stroke-width="1.38" fill="#777"/>
<circle cx="459.50" cy="610.00" r="1.20" stroke="none" stroke-width="0.00" fill="#ccc"/>
<path d="M326.2,622.3 L331.0,615.2 L335.8,622.3" stroke="#383838" stroke-width="1.15" fill="#fff" />
<path d="M354.8,622.3 L359.6,615.2 L364.4,622.3" stroke="#383838" stroke-width="1.15" fill="#fff" />
<path d="M383.4,622.3 L388.2,615.2 L393.0,622.3" stroke="#383838" stroke-width="1.15" fill="#fff" />
<path d="M412.0,622.3 L416.8,615.2 L421.6,622.3" stroke="#383838" stroke-width="1.15" fill="#fff" />
<path d="M440.6,622.3 L445.4,615.2 L450.2,622.3" stroke="#383838" stroke-width="1.15" fill="#fff" />
<rect x="490.50" y="571.50" width="71.80" height="50.80" rx="0" stroke="#383838" stroke-width="1.26" fill="none"/>
<path d="M493.6,571.5 L493.6,575 A4.1,4.1 0 0 0 501.8,575 L501.8,571.5" stroke="#383838" stroke-width="1.15" fill="none" />
<path d="M493.6,622.3 L493.6,618.5 A4.1,4.1 0 0 1 501.8,618.5 L501.8,622.3" stroke="#383838" stroke-width="1.15" fill="none" />
<path d="M551.7,571.5 L551.7,575 A4.1,4.1 0 0 0 559.9000000000001,575 L559.9000000000001,571.5" stroke="#383838" stroke-width="1.15" fill="none" />
<path d="M551.7,622.3 L551.7,618.5 A4.1,4.1 0 0 1 559.9000000000001,618.5 L559.9000000000001,622.3" stroke="#383838" stroke-width="1.15" fill="none" />
<rect x="501.50" y="586.00" width="7.40" height="20.60" rx="0" stroke="#2e2e2e" stroke-width="2.55" fill="#fff"/>
<line x1="501.40" y1="596.20" x2="509.00" y2="596.20" stroke="#333" stroke-width="1.95" />
<rect x="503.00" y="622.30" width="6.00" height="14.00" rx="0" stroke="#383838" stroke-width="1.15" fill="#fff"/>
<rect x="504.20" y="628.00" width="3.60" height="7.00" rx="0" stroke="#555" stroke-width="0.92" fill="none"/>
<line x1="504.00" y1="566.00" x2="504.00" y2="571.50" stroke="#383838" stroke-width="1.15" />
<line x1="507.50" y1="566.00" x2="507.50" y2="571.50" stroke="#383838" stroke-width="1.15" />
<rect x="515.60" y="586.00" width="7.40" height="20.60" rx="0" stroke="#2e2e2e" stroke-width="2.55" fill="#fff"/>
<line x1="515.50" y1="596.20" x2="523.10" y2="596.20" stroke="#333" stroke-width="1.95" />
<rect x="517.10" y="622.30" width="6.00" height="14.00" rx="0" stroke="#383838" stroke-width="1.15" fill="#fff"/>
<rect x="518.30" y="628.00" width="3.60" height="7.00" rx="0" stroke="#555" stroke-width="0.92" fill="none"/>
<line x1="518.10" y1="566.00" x2="518.10" y2="571.50" stroke="#383838" stroke-width="1.15" />
<line x1="521.60" y1="566.00" x2="521.60" y2="571.50" stroke="#383838" stroke-width="1.15" />
<rect x="530.00" y="586.00" width="7.40" height="20.60" rx="0" stroke="#2e2e2e" stroke-width="2.55" fill="#fff"/>
<line x1="529.90" y1="596.20" x2="537.50" y2="596.20" stroke="#333" stroke-width="1.95" />
<rect x="531.50" y="622.30" width="6.00" height="14.00" rx="0" stroke="#383838" stroke-width="1.15" fill="#fff"/>
<rect x="532.70" y="628.00" width="3.60" height="7.00" rx="0" stroke="#555" stroke-width="0.92" fill="none"/>
<line x1="532.50" y1="566.00" x2="532.50" y2="571.50" stroke="#383838" stroke-width="1.15" />
<line x1="536.00" y1="566.00" x2="536.00" y2="571.50" stroke="#383838" stroke-width="1.15" />
<rect x="544.40" y="586.00" width="7.40" height="20.60" rx="0" stroke="#2e2e2e" stroke-width="2.55" fill="#fff"/>
<line x1="544.30" y1="596.20" x2="551.90" y2="596.20" stroke="#333" stroke-width="1.95" />
<rect x="545.90" y="622.30" width="6.00" height="14.00" rx="0" stroke="#383838" stroke-width="1.15" fill="#fff"/>
<rect x="547.10" y="628.00" width="3.60" height="7.00" rx="0" stroke="#555" stroke-width="0.92" fill="none"/>
<line x1="546.90" y1="566.00" x2="546.90" y2="571.50" stroke="#383838" stroke-width="1.15" />
<line x1="550.40" y1="566.00" x2="550.40" y2="571.50" stroke="#383838" stroke-width="1.15" />
<text transform="translate(543.40,619.80) rotate(0) scale(0.8,1)" font-family="Liberation Sans, sans-serif" font-size="9.8" font-weight="bold" text-anchor="middle" fill="#111" xml:space="preserve">ND</text>
<line x1="564.40" y1="565.00" x2="564.40" y2="666.40" stroke="#383838" stroke-width="1.15" />
<rect x="556.20" y="645.90" width="8.00" height="19.90" rx="0" stroke="#383838" stroke-width="1.15" fill="none"/>
<line x1="319.50" y1="860.50" x2="755.00" y2="860.50" stroke="#5a5a5a" stroke-width="1.15" />
<line x1="663.50" y1="930.00" x2="711.50" y2="930.00" stroke="#5a5a5a" stroke-width="1.15" />
<line x1="663.50" y1="1026.30" x2="755.00" y2="1026.30" stroke="#5a5a5a" stroke-width="1.15" />
<line x1="708.50" y1="896.50" x2="708.50" y2="1060.00" stroke="#5a5a5a" stroke-width="1.15" />
<polygon points="708.50,930.00 706.00,912.00 711.00,912.00" fill="#111"/>
<polygon points="708.50,1026.30 711.00,1044.30 706.00,1044.30" fill="#111"/>
<line x1="751.40" y1="860.50" x2="751.40" y2="1026.30" stroke="#5a5a5a" stroke-width="1.15" />
<polygon points="751.40,860.50 753.90,878.50 748.90,878.50" fill="#111"/>
<polygon points="751.40,1026.30 748.90,1008.30 753.90,1008.30" fill="#111"/>
<g transform="translate(700.40,1004.80) rotate(-90)">
<text font-family="Liberation Sans, sans-serif" font-size="31.52" fill="#111" xml:space="preserve"><tspan x="-1.47" textLength="18.85" lengthAdjust="spacingAndGlyphs">8</tspan><tspan x="14.32" textLength="8.46" lengthAdjust="spacingAndGlyphs">.</tspan><tspan x="21.00"> </tspan><tspan x="29.82" textLength="17.83" lengthAdjust="spacingAndGlyphs">5</tspan><tspan x="47.55" textLength="15.01" lengthAdjust="spacingAndGlyphs">0</tspan></text>
</g>
<g transform="translate(743.10,987.20) rotate(-90)">
<text font-family="Liberation Sans, sans-serif" font-size="31.52" fill="#111" xml:space="preserve"><tspan x="-2.44" textLength="14.14" lengthAdjust="spacingAndGlyphs">1</tspan><tspan x="8.86" textLength="17.99" lengthAdjust="spacingAndGlyphs">4</tspan><tspan x="28.31" textLength="8.17" lengthAdjust="spacingAndGlyphs">.</tspan><tspan x="34.80"> </tspan><tspan x="42.81" textLength="15.13" lengthAdjust="spacingAndGlyphs">5</tspan><tspan x="60.24" textLength="15.12" lengthAdjust="spacingAndGlyphs">0</tspan></text>
<rect x="-1.17" y="-3.15" width="5.12" height="3.75" fill="#fff"/>
<rect x="6.20" y="-3.15" width="4.84" height="3.75" fill="#fff"/>
</g>
<line x1="184.40" y1="1026.30" x2="184.40" y2="1078.00" stroke="#5a5a5a" stroke-width="1.15" />
<line x1="289.30" y1="985.00" x2="289.30" y2="1078.00" stroke="#5a5a5a" stroke-width="1.15" />
<line x1="487.00" y1="1003.00" x2="487.00" y2="1078.00" stroke="#5a5a5a" stroke-width="1.15" />
<line x1="150.00" y1="1074.00" x2="487.00" y2="1074.00" stroke="#5a5a5a" stroke-width="1.15" />
<polygon points="184.40,1074.00 166.40,1076.50 166.40,1071.50" fill="#111"/>
<polygon points="289.20,1074.00 307.20,1071.50 307.20,1076.50" fill="#111"/>
<polygon points="487.00,1074.00 469.00,1076.50 469.00,1071.50" fill="#111"/>
<g transform="translate(205.10,1066.30) rotate(0)">
<text font-family="Liberation Sans, sans-serif" font-size="30.80" fill="#111" xml:space="preserve"><tspan x="-0.97" textLength="11.56" lengthAdjust="spacingAndGlyphs">9</tspan><tspan x="10.61" textLength="7.59" lengthAdjust="spacingAndGlyphs">.</tspan><tspan x="16.70"> </tspan><tspan x="22.58" textLength="11.23" lengthAdjust="spacingAndGlyphs">2</tspan><tspan x="33.35" textLength="10.70" lengthAdjust="spacingAndGlyphs">0</tspan></text>
</g>
<g transform="translate(347.90,1065.60) rotate(0)">
<text font-family="Liberation Sans, sans-serif" font-size="30.09" fill="#111" xml:space="preserve"><tspan x="-2.05" textLength="11.86" lengthAdjust="spacingAndGlyphs">1</tspan><tspan x="8.96" textLength="11.26" lengthAdjust="spacingAndGlyphs">7</tspan><tspan x="19.21" textLength="7.88" lengthAdjust="spacingAndGlyphs">.</tspan><tspan x="25.50"> </tspan><tspan x="31.42" textLength="11.59" lengthAdjust="spacingAndGlyphs">4</tspan><tspan x="42.95" textLength="10.70" lengthAdjust="spacingAndGlyphs">0</tspan></text>
<rect x="-0.98" y="-3.05" width="4.30" height="3.65" fill="#fff"/>
<rect x="5.20" y="-3.05" width="4.06" height="3.65" fill="#fff"/>
</g>
<!--SIDE-->
<path d="M185,1026.3 L185,930.0 L285,930.0" stroke="#383838" stroke-width="1.26" fill="none" />
<line x1="184.40" y1="1026.30" x2="663.50" y2="1026.30" stroke="#383838" stroke-width="1.26" />
<line x1="191.00" y1="930.00" x2="191.00" y2="1026.30" stroke="#383838" stroke-width="1.15" />
<line x1="242.00" y1="930.00" x2="242.00" y2="1026.30" stroke="#383838" stroke-width="1.15" />
<line x1="257.50" y1="930.00" x2="257.50" y2="1026.30" stroke="#383838" stroke-width="1.15" />
<line x1="285.00" y1="930.00" x2="285.00" y2="1003.00" stroke="#383838" stroke-width="1.15" />
<path d="M183.08,930.00 L183.70,925.00 L184.14,907.00 L184.72,906.00 L185.13,878.80 Q185.13,872.80 189.30,872.80 Q194.04,872.80 194.04,878.80 L194.51,906.00 L195.16,907.00 L195.66,925.00 L196.37,930.00" stroke="#444" stroke-width="1.15" fill="#fff" />
<path d="M185.13,877.80 Q185.13,872.80 189.30,872.80 Q194.04,872.80 194.04,877.80" stroke="#3a3a3a" stroke-width="1.65" fill="none" />
<path d="M186.92,930.00 L187.36,907.00 L188.42,877.80 M192.00,930.00 L191.50,907.00 L190.30,877.80" stroke="#6a6a6a" stroke-width="1.03" fill="none" />
<rect x="187.30" y="879.80" width="4.0" height="27.20" fill="#c4c4c4" opacity="0.85"/>
<line x1="184.14" y1="907.00" x2="195.16" y2="907.00" stroke="#333" stroke-width="1.38" />
<path d="M215.06,930.00 L215.73,925.00 L216.23,907.00 L216.86,906.00 L217.31,878.80 Q217.31,872.80 221.90,872.80 Q226.49,872.80 226.49,878.80 L226.94,906.00 L227.57,907.00 L228.07,925.00 L228.74,930.00" stroke="#444" stroke-width="1.15" fill="#fff" />
<path d="M217.31,877.80 Q217.31,872.80 221.90,872.80 Q226.49,872.80 226.49,877.80" stroke="#3a3a3a" stroke-width="1.65" fill="none" />
<path d="M219.20,930.00 L219.70,907.00 L220.90,877.80 M224.60,930.00 L224.10,907.00 L222.90,877.80" stroke="#6a6a6a" stroke-width="1.03" fill="none" />
<rect x="219.90" y="879.80" width="4.0" height="27.20" fill="#c4c4c4" opacity="0.85"/>
<line x1="216.23" y1="907.00" x2="227.57" y2="907.00" stroke="#333" stroke-width="1.38" />
<path d="M248.80,930.00 L249.60,925.00 L250.10,907.00 L250.80,906.00 L251.30,878.80 Q251.30,872.80 256.40,872.80 Q261.50,872.80 261.50,878.80 L262.00,906.00 L262.70,907.00 L263.20,925.00 L264.00,930.00" stroke="#444" stroke-width="1.15" fill="#fff" />
<path d="M251.30,877.80 Q251.30,872.80 256.40,872.80 Q261.50,872.80 261.50,877.80" stroke="#3a3a3a" stroke-width="1.65" fill="none" />
<path d="M253.70,930.00 L254.20,907.00 L255.40,877.80 M259.10,930.00 L258.60,907.00 L257.40,877.80" stroke="#6a6a6a" stroke-width="1.03" fill="none" />
<rect x="254.40" y="879.80" width="4.0" height="27.20" fill="#c4c4c4" opacity="0.85"/>
<line x1="256.80" y1="876.80" x2="256.80" y2="930.00" stroke="#444" stroke-width="1.26" />
<line x1="250.10" y1="907.00" x2="262.70" y2="907.00" stroke="#333" stroke-width="1.38" />
<line x1="227.00" y1="887.80" x2="250.50" y2="887.80" stroke="#383838" stroke-width="1.15" />
<path d="M262,881 L283,929.8" stroke="#444" stroke-width="1.15" fill="none" />
<path d="M267.3,888.5 Q270,886 272.3,889.5 L273.3,894 Q271.5,897 269.5,894.5 Z" stroke="#5a8aa0" stroke-width="0.92" fill="#9cc4d6" />
<path d="M205,930 Q207,927.3 214.5,927.6" stroke="#666" stroke-width="1.49" fill="none" />
<path d="M282,930.0 L282,881 Q282,872.5 290,872.5 L430,872.5 Q438,872.5 438,881 L438,917.5" stroke="#383838" stroke-width="1.26" fill="none" />
<line x1="282.00" y1="883.00" x2="433.00" y2="883.00" stroke="#383838" stroke-width="1.15" />
<line x1="433.30" y1="884.00" x2="433.30" y2="917.50" stroke="#7fb4cc" stroke-width="1.15" />
<rect x="319.50" y="860.50" width="82.50" height="12.00" rx="0" stroke="#383838" stroke-width="1.26" fill="none"/>
<line x1="333.00" y1="860.50" x2="333.00" y2="872.50" stroke="#383838" stroke-width="1.15" />
<line x1="338.40" y1="860.50" x2="338.40" y2="872.50" stroke="#383838" stroke-width="1.15" />
<path d="M289.6,985 L289.6,918.3 L486.5,918.3 L486.5,1003" stroke="#383838" stroke-width="1.26" fill="none" />
<line x1="470.50" y1="918.30" x2="470.50" y2="985.00" stroke="#383838" stroke-width="1.15" />
<line x1="289.60" y1="985.00" x2="486.50" y2="985.00" stroke="#2a2a2a" stroke-width="2.25" />
<rect x="285.3" y="958.7" width="4" height="26.5" fill="#b8b8b8"/>
<line x1="285.20" y1="958.70" x2="285.20" y2="1003.10" stroke="#666" stroke-width="1.03" />
<line x1="486.50" y1="986.60" x2="563.50" y2="986.60" stroke="#383838" stroke-width="1.15" />
<line x1="293.70" y1="985.60" x2="293.70" y2="998.80" stroke="#333" stroke-width="1.75" />
<line x1="293.70" y1="999.40" x2="563.50" y2="999.40" stroke="#383838" stroke-width="1.15" />
<line x1="285.00" y1="1003.10" x2="563.50" y2="1003.10" stroke="#383838" stroke-width="1.15" />
<line x1="313.10" y1="999.40" x2="313.10" y2="1003.10" stroke="#444" stroke-width="1.15" />
<line x1="321.25" y1="999.40" x2="321.25" y2="1003.10" stroke="#444" stroke-width="1.15" />
<line x1="341.90" y1="999.40" x2="341.90" y2="1003.10" stroke="#444" stroke-width="1.15" />
<line x1="350.05" y1="999.40" x2="350.05" y2="1003.10" stroke="#444" stroke-width="1.15" />
<line x1="370.70" y1="999.40" x2="370.70" y2="1003.10" stroke="#444" stroke-width="1.15" />
<line x1="378.85" y1="999.40" x2="378.85" y2="1003.10" stroke="#444" stroke-width="1.15" />
<line x1="399.50" y1="999.40" x2="399.50" y2="1003.10" stroke="#444" stroke-width="1.15" />
<line x1="407.65" y1="999.40" x2="407.65" y2="1003.10" stroke="#444" stroke-width="1.15" />
<line x1="428.30" y1="999.40" x2="428.30" y2="1003.10" stroke="#444" stroke-width="1.15" />
<line x1="436.45" y1="999.40" x2="436.45" y2="1003.10" stroke="#444" stroke-width="1.15" />
<line x1="457.10" y1="999.40" x2="457.10" y2="1003.10" stroke="#444" stroke-width="1.15" />
<line x1="465.25" y1="999.40" x2="465.25" y2="1003.10" stroke="#444" stroke-width="1.15" />
<rect x="459.20" y="907.00" width="10.60" height="11.30" fill="#cfe6f2"/>
<path d="M456.90,918.30 L457.70,913.30 L458.20,907.00 L458.90,906.00 L459.40,878.80 Q459.40,872.80 464.50,872.80 Q469.60,872.80 469.60,878.80 L470.10,906.00 L470.80,907.00 L471.30,913.30 L472.10,918.30" stroke="#444" stroke-width="1.15" fill="none" />
<path d="M459.40,877.80 Q459.40,872.80 464.50,872.80 Q469.60,872.80 469.60,877.80" stroke="#3a3a3a" stroke-width="1.65" fill="none" />
<path d="M461.80,918.30 L462.30,907.00 L463.50,877.80 M467.20,918.30 L466.70,907.00 L465.50,877.80" stroke="#6a6a6a" stroke-width="1.03" fill="none" />
<rect x="462.50" y="879.80" width="4.0" height="27.20" fill="#c4c4c4" opacity="0.85"/>
<line x1="458.20" y1="907.00" x2="470.80" y2="907.00" stroke="#333" stroke-width="1.38" />
<path d="M489.90,930.00 L490.70,925.00 L491.20,907.00 L491.90,906.00 L492.40,878.80 Q492.40,872.80 497.50,872.80 Q502.60,872.80 502.60,878.80 L503.10,906.00 L503.80,907.00 L504.30,925.00 L505.10,930.00" stroke="#444" stroke-width="1.15" fill="#fff" />
<path d="M492.40,877.80 Q492.40,872.80 497.50,872.80 Q502.60,872.80 502.60,877.80" stroke="#3a3a3a" stroke-width="1.65" fill="none" />
<path d="M494.80,930.00 L495.30,907.00 L496.50,877.80 M500.20,930.00 L499.70,907.00 L498.50,877.80" stroke="#6a6a6a" stroke-width="1.03" fill="none" />
<rect x="495.50" y="879.80" width="4.0" height="27.20" fill="#c4c4c4" opacity="0.85"/>
<line x1="491.20" y1="907.00" x2="503.80" y2="907.00" stroke="#333" stroke-width="1.38" />
<path d="M522.80,930.00 L523.60,925.00 L524.10,907.00 L524.80,906.00 L525.30,878.80 Q525.30,872.80 530.40,872.80 Q535.50,872.80 535.50,878.80 L536.00,906.00 L536.70,907.00 L537.20,925.00 L538.00,930.00" stroke="#444" stroke-width="1.15" fill="#fff" />
<path d="M525.30,877.80 Q525.30,872.80 530.40,872.80 Q535.50,872.80 535.50,877.80" stroke="#3a3a3a" stroke-width="1.65" fill="none" />
<path d="M527.70,930.00 L528.20,907.00 L529.40,877.80 M533.10,930.00 L532.60,907.00 L531.40,877.80" stroke="#6a6a6a" stroke-width="1.03" fill="none" />
<rect x="528.40" y="879.80" width="4.0" height="27.20" fill="#c4c4c4" opacity="0.85"/>
<line x1="524.10" y1="907.00" x2="536.70" y2="907.00" stroke="#333" stroke-width="1.38" />
<path d="M555.70,930.00 L556.50,925.00 L557.00,907.00 L557.70,906.00 L558.20,878.80 Q558.20,872.80 563.30,872.80 Q568.40,872.80 568.40,878.80 L568.90,906.00 L569.60,907.00 L570.10,925.00 L570.90,930.00" stroke="#444" stroke-width="1.15" fill="#fff" />
<path d="M558.20,877.80 Q558.20,872.80 563.30,872.80 Q568.40,872.80 568.40,877.80" stroke="#3a3a3a" stroke-width="1.65" fill="none" />
<path d="M560.60,930.00 L561.10,907.00 L562.30,877.80 M566.00,930.00 L565.50,907.00 L564.30,877.80" stroke="#6a6a6a" stroke-width="1.03" fill="none" />
<rect x="561.30" y="879.80" width="4.0" height="27.20" fill="#c4c4c4" opacity="0.85"/>
<line x1="557.00" y1="907.00" x2="569.60" y2="907.00" stroke="#333" stroke-width="1.38" />
<path d="M588.40,930.00 L589.20,925.00 L589.70,907.00 L590.40,906.00 L590.90,878.80 Q590.90,872.80 596.00,872.80 Q601.10,872.80 601.10,878.80 L601.60,906.00 L602.30,907.00 L602.80,925.00 L603.60,930.00" stroke="#444" stroke-width="1.15" fill="#fff" />
<path d="M590.90,877.80 Q590.90,872.80 596.00,872.80 Q601.10,872.80 601.10,877.80" stroke="#3a3a3a" stroke-width="1.65" fill="none" />
<path d="M593.30,930.00 L593.80,907.00 L595.00,877.80 M598.70,930.00 L598.20,907.00 L597.00,877.80" stroke="#6a6a6a" stroke-width="1.03" fill="none" />
<rect x="594.00" y="879.80" width="4.0" height="27.20" fill="#c4c4c4" opacity="0.85"/>
<line x1="589.70" y1="907.00" x2="602.30" y2="907.00" stroke="#333" stroke-width="1.38" />
<path d="M621.20,930.00 L622.00,925.00 L622.50,907.00 L623.20,906.00 L623.70,878.80 Q623.70,872.80 628.80,872.80 Q633.90,872.80 633.90,878.80 L634.40,906.00 L635.10,907.00 L635.60,925.00 L636.40,930.00" stroke="#444" stroke-width="1.15" fill="#fff" />
<path d="M623.70,877.80 Q623.70,872.80 628.80,872.80 Q633.90,872.80 633.90,877.80" stroke="#3a3a3a" stroke-width="1.65" fill="none" />
<path d="M626.10,930.00 L626.60,907.00 L627.80,877.80 M631.50,930.00 L631.00,907.00 L629.80,877.80" stroke="#6a6a6a" stroke-width="1.03" fill="none" />
<rect x="626.80" y="879.80" width="4.0" height="27.20" fill="#c4c4c4" opacity="0.85"/>
<line x1="622.50" y1="907.00" x2="635.10" y2="907.00" stroke="#333" stroke-width="1.38" />
<path d="M652.60,930.00 L653.40,925.00 L653.90,907.00 L654.60,906.00 L655.10,878.80 Q655.10,872.80 660.20,872.80 Q662.34,872.80 662.34,878.80 L662.55,906.00 L662.85,907.00 L663.06,925.00 L663.39,930.00" stroke="#444" stroke-width="1.15" fill="#fff" />
<path d="M655.10,877.80 Q655.10,872.80 660.20,872.80 Q662.34,872.80 662.34,877.80" stroke="#3a3a3a" stroke-width="1.65" fill="none" />
<path d="M657.50,930.00 L658.00,907.00 L659.20,877.80 M661.33,930.00 L661.12,907.00 L660.62,877.80" stroke="#6a6a6a" stroke-width="1.03" fill="none" />
<rect x="658.20" y="879.80" width="4.0" height="27.20" fill="#c4c4c4" opacity="0.85"/>
<line x1="653.90" y1="907.00" x2="662.85" y2="907.00" stroke="#333" stroke-width="1.38" />
<line x1="486.50" y1="930.00" x2="663.50" y2="930.00" stroke="#383838" stroke-width="1.26" />
<line x1="663.50" y1="930.00" x2="663.50" y2="1026.30" stroke="#383838" stroke-width="1.26" />
<line x1="590.30" y1="930.00" x2="590.30" y2="1026.30" stroke="#383838" stroke-width="1.15" />
<line x1="606.80" y1="930.00" x2="606.80" y2="1026.30" stroke="#383838" stroke-width="1.15" />
<line x1="656.30" y1="930.00" x2="656.30" y2="1026.30" stroke="#383838" stroke-width="1.15" />
<line x1="563.90" y1="930.00" x2="563.90" y2="1003.60" stroke="#383838" stroke-width="1.26" />
<line x1="486.50" y1="958.70" x2="563.60" y2="958.70" stroke="#383838" stroke-width="1.15" />
<path d="M491,979.7 L491,968.5 L561.5,968.5" stroke="#383838" stroke-width="1.15" fill="none" />
<line x1="489.50" y1="976.80" x2="563.60" y2="976.80" stroke="#383838" stroke-width="1.15" />
<line x1="489.50" y1="979.80" x2="563.60" y2="979.80" stroke="#666" stroke-width="1.03" />
<line x1="494.00" y1="967.20" x2="512.00" y2="967.20" stroke="#222" stroke-width="2.45" />
<line x1="512.00" y1="967.30" x2="540.50" y2="967.30" stroke="#999" stroke-width="2.35" />
<rect x="502.30" y="976.80" width="5.00" height="8.20" rx="0" stroke="#333" stroke-width="1.26" fill="#fff"/>
<rect x="503.70" y="979.30" width="2.20" height="3.40" rx="0" stroke="#555" stroke-width="0.92" fill="#ddd"/>
<rect x="517.20" y="976.80" width="5.00" height="8.20" rx="0" stroke="#333" stroke-width="1.26" fill="#fff"/>
<rect x="518.60" y="979.30" width="2.20" height="3.40" rx="0" stroke="#555" stroke-width="0.92" fill="#ddd"/>
<rect x="532.00" y="976.80" width="5.00" height="8.20" rx="0" stroke="#333" stroke-width="1.26" fill="#fff"/>
<rect x="533.40" y="979.30" width="2.20" height="3.40" rx="0" stroke="#555" stroke-width="0.92" fill="#ddd"/>
<rect x="545.70" y="976.80" width="5.00" height="8.20" rx="0" stroke="#333" stroke-width="1.26" fill="#fff"/>
<rect x="547.10" y="979.30" width="2.20" height="3.40" rx="0" stroke="#555" stroke-width="0.92" fill="#ddd"/>
<line x1="486.50" y1="985.00" x2="563.60" y2="985.00" stroke="#333" stroke-width="1.49" />
<line x1="554.80" y1="986.60" x2="554.80" y2="999.40" stroke="#383838" stroke-width="1.15" />
<rect x="561.8" y="960.5" width="2.2" height="8" fill="#bfe0ee"/>
</g>
</svg>
</body></html>
